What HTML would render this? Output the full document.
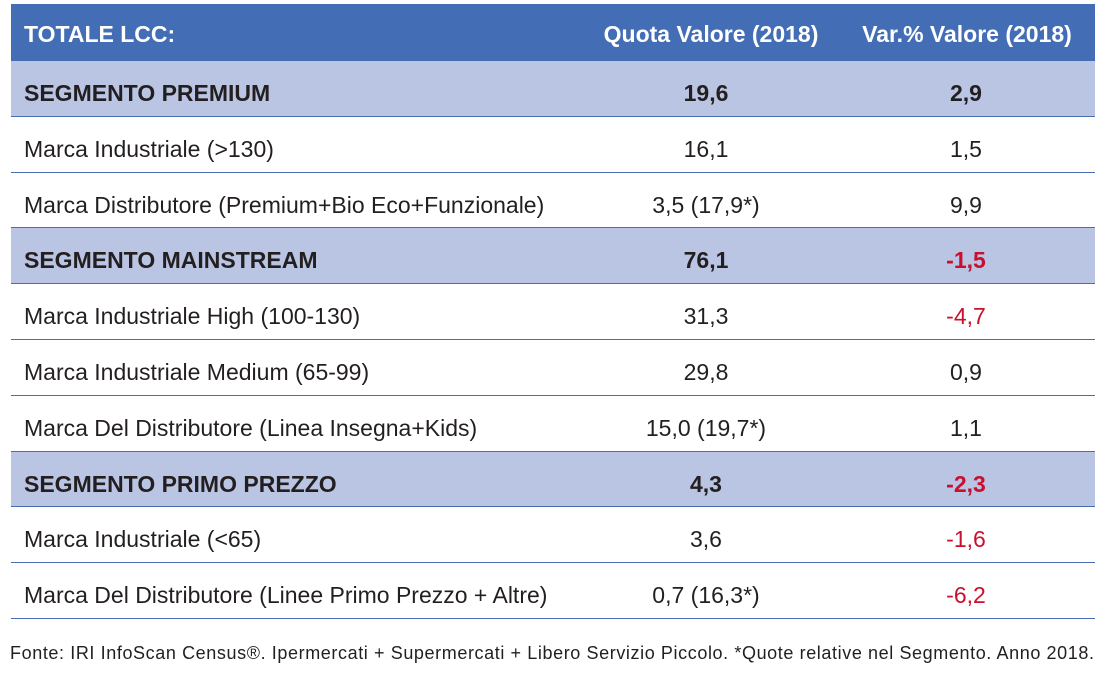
<!DOCTYPE html>
<html><head><meta charset="utf-8"><style>
html,body{margin:0;padding:0;background:#fff;width:1114px;height:680px;overflow:hidden;font-family:"Liberation Sans",sans-serif;}
.t{position:absolute;left:11px;top:4px;width:1084px;}
.r{position:relative;height:55.8px;border-bottom:1.5px solid #4a6db0;box-sizing:border-box;font-size:23px;color:#231f20;}
.r div{position:absolute;top:5px;line-height:54px;white-space:nowrap;}
.c1{left:13px}
.c2{left:600px;width:190px;text-align:center}
.c3{left:870px;width:170px;text-align:center}
.h{background:#436eb5;color:#fff;font-weight:bold;height:57px;border:none}
.h div{top:3px}
.s{background:#bac5e4;font-weight:bold}
.red{color:#c8102e}
.f{position:absolute;left:10px;top:643px;font-size:18px;letter-spacing:0.6px;color:#231f20;white-space:nowrap;}
</style></head><body>
<div class="t">
<div class="r h"><div class="c1">TOTALE LCC:</div><div class="c2" style="left:575px;width:250px">Quota Valore (2018)</div><div class="c3" style="left:836px;width:240px">Var.% Valore (2018)</div></div>
<div class="r s"><div class="c1">SEGMENTO PREMIUM</div><div class="c2">19,6</div><div class="c3">2,9</div></div>
<div class="r"><div class="c1">Marca Industriale (&gt;130)</div><div class="c2">16,1</div><div class="c3">1,5</div></div>
<div class="r"><div class="c1">Marca Distributore (Premium+Bio Eco+Funzionale)</div><div class="c2">3,5 (17,9*)</div><div class="c3">9,9</div></div>
<div class="r s"><div class="c1">SEGMENTO MAINSTREAM</div><div class="c2">76,1</div><div class="c3 red">-1,5</div></div>
<div class="r"><div class="c1">Marca Industriale High (100-130)</div><div class="c2">31,3</div><div class="c3 red">-4,7</div></div>
<div class="r"><div class="c1">Marca Industriale Medium (65-99)</div><div class="c2">29,8</div><div class="c3">0,9</div></div>
<div class="r"><div class="c1">Marca Del Distributore (Linea Insegna+Kids)</div><div class="c2">15,0 (19,7*)</div><div class="c3">1,1</div></div>
<div class="r s"><div class="c1">SEGMENTO PRIMO PREZZO</div><div class="c2">4,3</div><div class="c3 red">-2,3</div></div>
<div class="r"><div class="c1">Marca Industriale (&lt;65)</div><div class="c2">3,6</div><div class="c3 red">-1,6</div></div>
<div class="r"><div class="c1">Marca Del Distributore (Linee Primo Prezzo + Altre)</div><div class="c2">0,7 (16,3*)</div><div class="c3 red">-6,2</div></div>
</div>
<div class="f">Fonte: IRI InfoScan Census®. Ipermercati + Supermercati + Libero Servizio Piccolo. *Quote relative nel Segmento. Anno 2018.</div>
</body></html>
